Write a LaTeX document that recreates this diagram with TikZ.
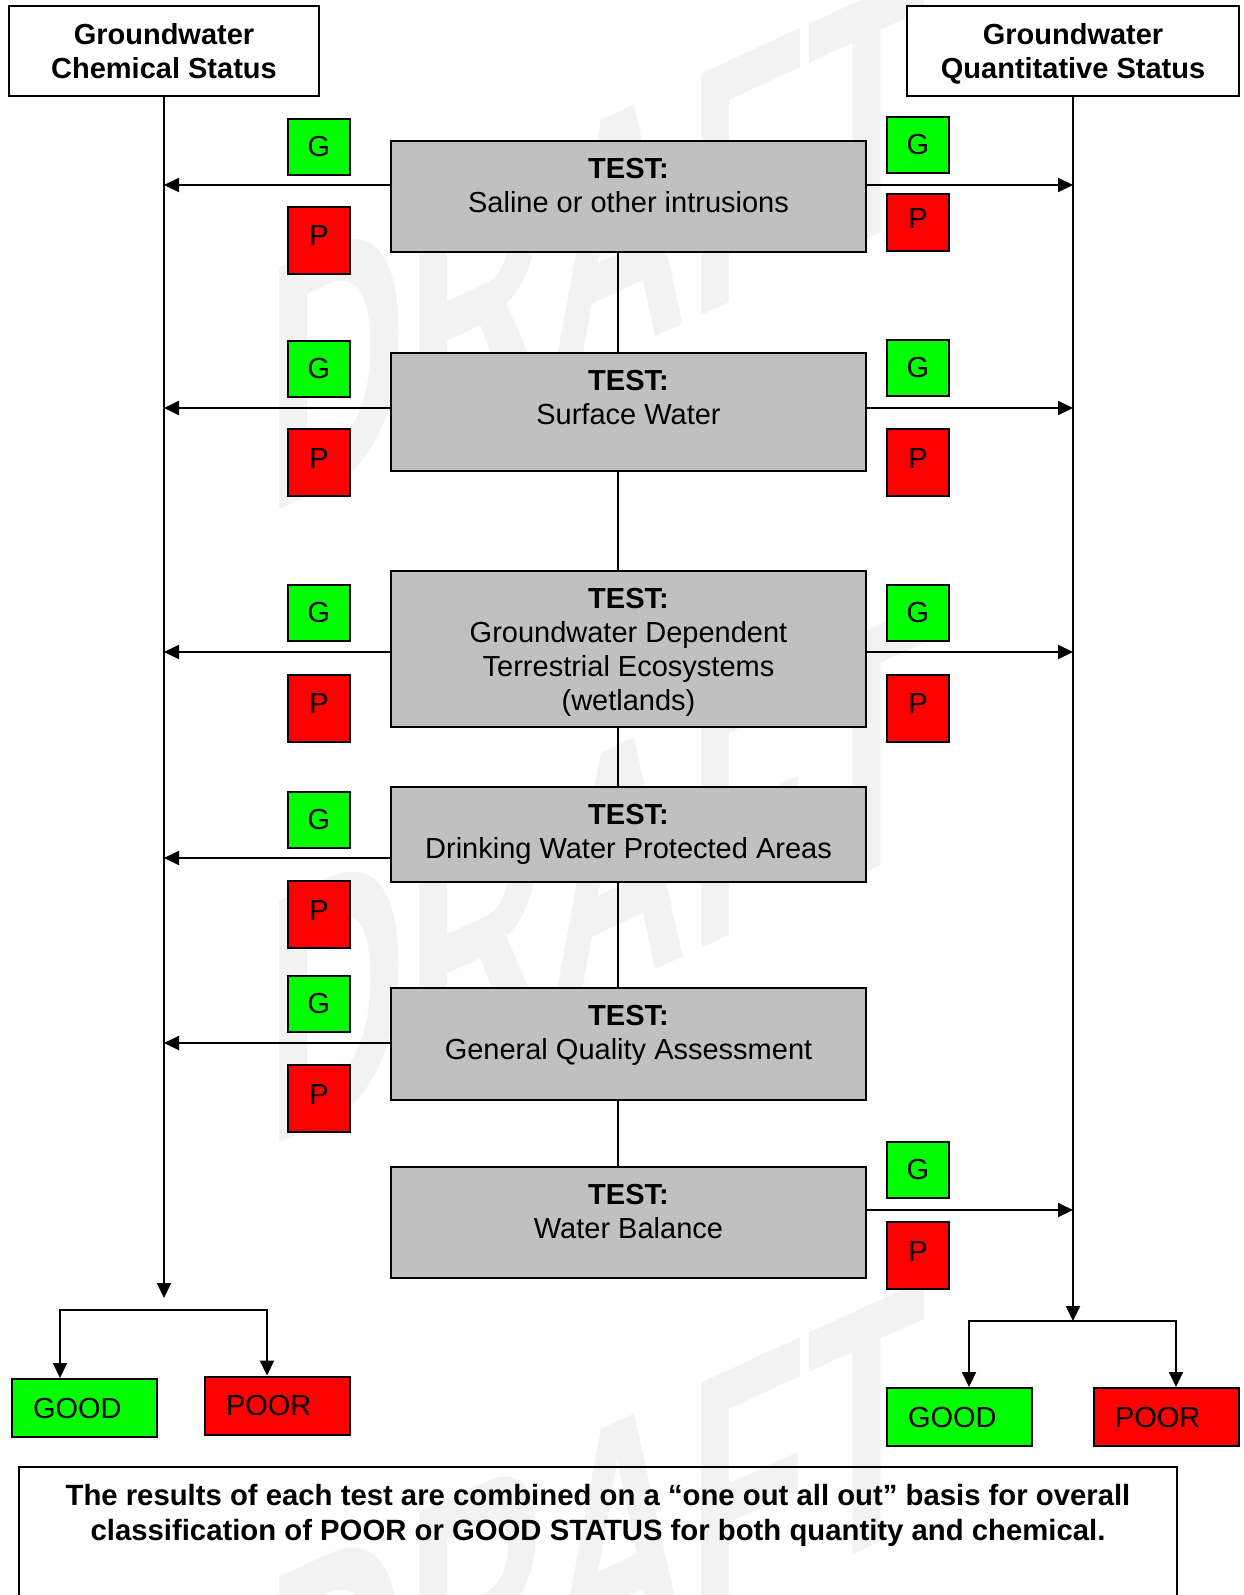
\documentclass[tikz,border=0pt]{standalone}
\usepackage{fontspec}
\setmainfont{Liberation Sans}
\usetikzlibrary{arrows.meta}

\definecolor{sgreen}{HTML}{00FF00}
\definecolor{sred}{HTML}{FF0000}
\definecolor{tgray}{HTML}{C0C0C0}
\definecolor{wmgray}{HTML}{F2F2F2}

\newcommand{\testlabel}[2]{\parbox[c][#1][t]{475pt}{\centering\rule{0pt}{37pt}\textbf{TEST:}\\#2}}

\begin{document}
\begin{tikzpicture}[x=1pt,y=1pt]
\tikzstyle{every node}=[inner sep=0pt, font=\fontsize{29}{34}\selectfont]
\tikzstyle{status}=[draw, line width=2pt, fill=white, align=center, text depth=0pt, minimum height=90pt]
\tikzstyle{testbox}=[draw, line width=2pt, fill=tgray, anchor=north]
\tikzstyle{gbox}=[draw, line width=2pt, fill=sgreen, minimum width=62pt, minimum height=56pt]
\tikzstyle{pbox}=[draw, line width=2pt, fill=sred, text depth=8pt, minimum width=62pt, minimum height=67pt]
\tikzstyle{result}=[draw, line width=2pt, minimum height=58pt, text width=103pt, inner xsep=21pt, align=left]
\tikzstyle{notebox}=[draw, line width=2pt, anchor=north]
\tikzstyle{arr}=[line width=2pt, -{Triangle[length=15pt,width=14pt]}]
\tikzstyle{fork}=[line width=2pt, {Triangle[length=15pt,width=14pt]}-{Triangle[length=15pt,width=14pt]}]
\tikzstyle{wm}=[text=wmgray, font=\fontsize{195}{195}\selectfont\bfseries, anchor=base west, transform shape]
\useasboundingbox (0,0) rectangle (1243,-1595);

% watermark
\begin{scope}[shift={(266,-516)}, yslant=0.46, yscale=1.8]
\node[wm] (wm1) at (0,0) {DRAFT};
\end{scope}
\begin{scope}[shift={(266,-1149)}, yslant=0.46, yscale=1.8]
\node[wm] (wm2) at (0,0) {DRAFT};
\end{scope}
\begin{scope}[shift={(266,-1825)}, yslant=0.46, yscale=1.8]
\node[wm] (wm3) at (0,0) {DRAFT};
\end{scope}

% status heads
\node[status, minimum width=310pt] (chem) at (164,-51) {\textbf{Groundwater}\\\textbf{Chemical Status}};
\node[status, minimum width=332pt] (quant) at (1073,-51) {\textbf{Groundwater}\\\textbf{Quantitative Status}};

% tests
\node[testbox] (t1) at (628.5,-140) {\testlabel{111pt}{Saline or other intrusions}};
\node[testbox] (t2) at (628.5,-352) {\testlabel{118pt}{Surface Water}};
\node[testbox] (t3) at (628.5,-570) {\testlabel{156pt}{Groundwater Dependent\\Terrestrial Ecosystems\\(wetlands)}};
\node[testbox] (t4) at (628.5,-786) {\testlabel{95pt}{Drinking Water Protected Areas}};
\node[testbox] (t5) at (628.5,-987) {\testlabel{112pt}{General Quality Assessment}};
\node[testbox] (t6) at (628.5,-1166) {\testlabel{111pt}{Water Balance}};

\coordinate (mid) at (618,0);
\draw[line width=2pt] (t1.south -| mid) -- (t2.north -| mid);
\draw[line width=2pt] (t2.south -| mid) -- (t3.north -| mid);
\draw[line width=2pt] (t3.south -| mid) -- (t4.north -| mid);
\draw[line width=2pt] (t4.south -| mid) -- (t5.north -| mid);
\draw[line width=2pt] (t5.south -| mid) -- (t6.north -| mid);

% G / P flags, chemical side
\node[gbox] (lg1) at (319,-146.5) {G};
\node[pbox] (lp1) at (319,-240) {P};
\node[gbox] (lg2) at (319,-368.5) {G};
\node[pbox] (lp2) at (319,-462.5) {P};
\node[gbox] (lg3) at (319,-612.5) {G};
\node[pbox] (lp3) at (319,-708) {P};
\node[gbox] (lg4) at (319,-819.5) {G};
\node[pbox] (lp4) at (319,-914.5) {P};
\node[gbox] (lg5) at (319,-1003.5) {G};
\node[pbox] (lp5) at (319,-1098.5) {P};

% G / P flags, quantitative side
\node[gbox] (rg1) at (918,-145) {G};
\node[pbox, minimum height=57pt] (rp1) at (918,-222.5) {P};
\node[gbox] (rg2) at (918,-368) {G};
\node[pbox] (rp2) at (918,-462.5) {P};
\node[gbox] (rg3) at (918,-612.5) {G};
\node[pbox] (rp3) at (918,-708) {P};
\node[gbox] (rg6) at (918,-1169.5) {G};
\node[pbox] (rp6) at (918,-1255.5) {P};

% main lines
\coordinate (lend) at (164,-1298);
\coordinate (rend) at (1073,-1321);
\draw[arr] (chem) -- (lend);
\draw[arr] (quant) -- (rend);

\coordinate (cl1) at (164,-185);
\coordinate (cl2) at (164,-408);
\coordinate (cl3) at (164,-652);
\coordinate (cl4) at (164,-858);
\coordinate (cl5) at (164,-1043);
\draw[arr] (t1.west |- cl1) -- (cl1);
\draw[arr] (t2.west |- cl2) -- (cl2);
\draw[arr] (t3.west |- cl3) -- (cl3);
\draw[arr] (t4.west |- cl4) -- (cl4);
\draw[arr] (t5.west |- cl5) -- (cl5);

\coordinate (cr1) at (1073,-185);
\coordinate (cr2) at (1073,-408);
\coordinate (cr3) at (1073,-652);
\coordinate (cr6) at (1073,-1210);
\draw[arr] (t1.east |- cr1) -- (cr1);
\draw[arr] (t2.east |- cr2) -- (cr2);
\draw[arr] (t3.east |- cr3) -- (cr3);
\draw[arr] (t6.east |- cr6) -- (cr6);

% outcomes
\node[result, fill=sgreen] (lgood) at (84.5,-1408) {GOOD};
\node[result, fill=sred] (lpoor) at (277.5,-1405.5) {POOR};
\node[result, fill=sgreen] (rgood) at (959.5,-1417) {GOOD};
\node[result, fill=sred] (rpoor) at (1166.5,-1417) {POOR};

\coordinate (lf1) at (60,-1310);
\coordinate (lf2) at (267,-1310);
\draw[fork] (lf1 |- lgood.north) -- (lf1) -- (lf2) -- (lf2 |- lpoor.north);
\coordinate (rf1) at (969,-1321);
\coordinate (rf2) at (1176,-1321);
\draw[fork] (rf1 |- rgood.north) -- (rf1) -- (rf2) -- (rf2 |- rpoor.north);

% note
\node[notebox] (note) at (598,-1466) {\parbox[c][180pt][t]{1158pt}{\centering\bfseries\fontsize{29.3}{35}\selectfont\rule{0pt}{38pt}The results of each test are combined on a “one out all out” basis for overall\\classification of POOR or GOOD STATUS for both quantity and chemical.}};
\end{tikzpicture}
\end{document}
